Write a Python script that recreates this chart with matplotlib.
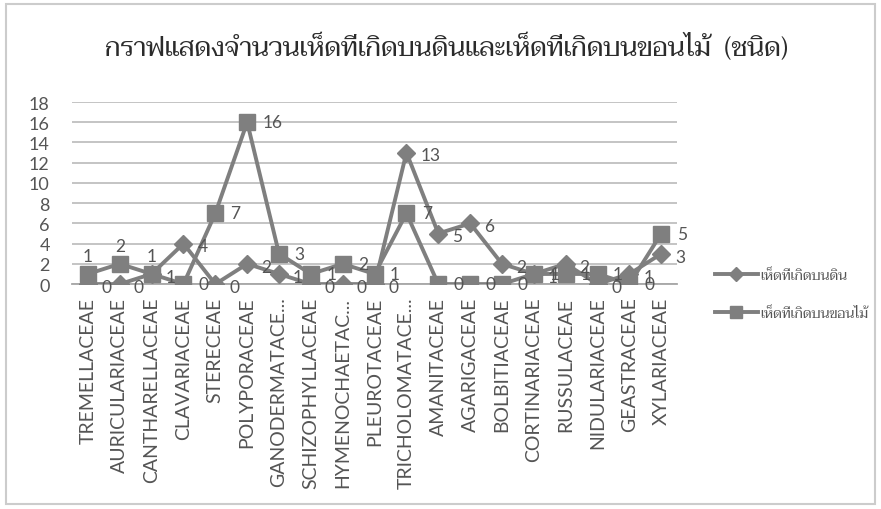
"""Line chart: mushrooms on soil vs. on wood per family (Thai labels)."""

import matplotlib
matplotlib.use("Agg")
import matplotlib.pyplot as plt
from matplotlib.patches import Rectangle

THAI = ["Taviraj", "Trirong", "Noto Serif Thai", "Sarabun", "FreeSerif", "DejaVu Sans"]
LATIN = ["Lato", "DejaVu Sans"]

families = [
    "TREMELLACEAE", "AURICULARIACEAE", "CANTHARELLACEAE", "CLAVARIACEAE",
    "STERECEAE", "POLYPORACEAE", "GANODERMATACE...", "SCHIZOPHYLLACEAE",
    "HYMENOCHAETAC...", "PLEUROTACEAE", "TRICHOLOMATACE...", "AMANITACEAE",
    "AGARIGACEAE", "BOLBITIACEAE", "CORTINARIACEAE", "RUSSULACEAE",
    "NIDULARIACEAE", "GEASTRACEAE", "XYLARIACEAE",
]
on_soil = [0, 0, 1, 4, 0, 2, 1, 0, 0, 0, 13, 5, 6, 2, 1, 2, 0, 1, 3]
on_wood = [1, 2, 1, 0, 7, 16, 3, 1, 2, 1, 7, 0, 0, 0, 1, 1, 1, 0, 5]
soil_name = "เห็ดที่เกิดบนดิน"
wood_name = "เห็ดที่เกิดบนขอนไม้"
title = "กราฟแสดงจำนวนเห็ดที่เกิดบนดินและเห็ดที่เกิดบนขอนไม้  (ชนิด)"
y_ticks = list(range(0, 19, 2))

LINE = "#7f7f7f"
TEXT = "#555555"

fig = plt.figure(figsize=(8.81, 5.10), dpi=100)
fig.patches.append(Rectangle((0.007, 0.01), 0.986, 0.98, transform=fig.transFigure,
                             fill=False, edgecolor="#cccccc", linewidth=1.5))
ax = fig.add_axes([0.0817, 0.441, 0.687, 0.357])

x = range(len(families))
ax.plot(x, on_soil, color=LINE, linewidth=2.8, marker="D", markersize=9,
        label=soil_name, zorder=3)
ax.plot(x, on_wood, color=LINE, linewidth=2.8, marker="s", markersize=11,
        label=wood_name, zorder=4)

# data labels sit to the right of the marker, except the first wood points
for i, v in enumerate(on_soil):
    ax.annotate(str(v), (i, v), xytext=(10, -2), textcoords="offset points",
                ha="left", va="center", fontsize=12.5, color=TEXT, family=LATIN,
                zorder=5)
for i, v in enumerate(on_wood):
    if i < 3:
        off, ha, va = (0, 7), "center", "bottom"
    else:
        off, ha, va = (11, 0), "left", "center"
    ax.annotate(str(v), (i, v), xytext=off, textcoords="offset points",
                ha=ha, va=va, fontsize=12.5, color=TEXT, family=LATIN, zorder=5)

ax.set_xlim(-0.5, len(families) - 0.5)
ax.set_ylim(0, 18)
ax.set_yticks(y_ticks)
ax.set_xticks(list(x))
ax.set_xticklabels(families, rotation=90, fontsize=14, color=TEXT, family=LATIN)
for lab in ax.get_yticklabels():
    lab.set_fontsize(13)
    lab.set_color(TEXT)
    lab.set_family(LATIN)
ax.tick_params(axis="both", length=0)
ax.tick_params(axis="x", pad=9)
ax.tick_params(axis="y", pad=16)
ax.grid(axis="y", color="#bfbfbf", linewidth=1.3)
ax.set_axisbelow(True)
for side in ("left", "right", "top"):
    ax.spines[side].set_visible(False)
ax.spines["bottom"].set_color("#a6a6a6")
ax.spines["bottom"].set_linewidth(1.3)

fig.text(0.507, 0.905, title, ha="center", va="center", fontsize=19,
         color="#2b2b2b", family=THAI)

leg = fig.legend(loc="center left", bbox_to_anchor=(0.797, 0.422), frameon=False,
                 prop={"family": THAI, "size": 10}, handlelength=3.1,
                 handletextpad=0.2, labelspacing=1.75, markerscale=0.75)
for t in leg.get_texts():
    t.set_color(TEXT)

fig.savefig("out.png", dpi=100)
